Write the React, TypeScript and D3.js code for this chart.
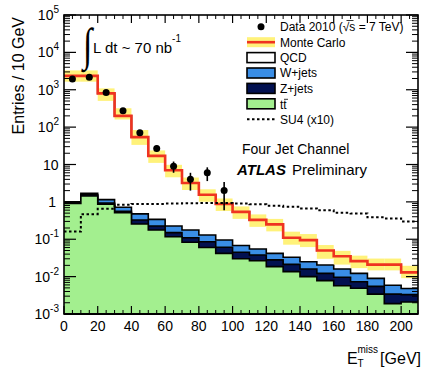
import React from 'react';
import * as d3 from 'd3';

const binStart = [0, 10, 20, 30, 40, 50, 60, 70, 80, 90, 100, 110, 120, 130, 140, 150, 160, 170, 180, 190, 200];
const binWidth = 10;
const mcTotal = [2350, 2350, 800, 200, 54, 17, 7, 3.2, 1.55, 0.88, 0.54, 0.33, 0.25, 0.11, 0.095, 0.05, 0.035, 0.026, 0.021, 0.021, 0.013];
const mcErrUp = [0.4, 0.4, 0.36, 0.6, 0.55, 0.4, 0.4, 0.4, 0.4, 0.4, 0.4, 0.4, 0.4, 0.45, 0.45, 0.4, 0.4, 0.4, 0.45, 0.45, 0.5];
const mcErrDn = [0.3, 0.3, 0.37, 0.2, 0.38, 0.35, 0.35, 0.35, 0.35, 0.35, 0.35, 0.35, 0.35, 0.35, 0.35, 0.4, 0.4, 0.35, 0.3, 0.3, 0.3];
const ttbar = [0.91, 1.44, 0.87, 0.51, 0.256, 0.177, 0.117, 0.083, 0.06, 0.042, 0.03, 0.0267, 0.0185, 0.0136, 0.01, 0.0078, 0.0057, 0.0049, 0.0034, 0.0019, 0.0021];
const zjets = [0.04, 0.11, 0.06, 0.05, 0.071, 0.049, 0.033, 0.027, 0.026, 0.019, 0.015, 0.0113, 0.0095, 0.0077, 0.006, 0.0044, 0.0039, 0.0024, 0.0021, 0.0015, 0.0012];
const wjets = [0.05, 0.14, 0.22, 0.16, 0.149, 0.115, 0.076, 0.067, 0.044, 0.0345, 0.023, 0.017, 0.014, 0.0117, 0.0091, 0.0083, 0.0064, 0.0049, 0.0035, 0.0025, 0.0015];
const su4 = [0.16, 0.47, 0.65, 0.84, 0.88, 0.88, 0.9, 0.92, 0.93, 0.93, 0.91, 0.86, 0.79, 0.74, 0.67, 0.6, 0.51, 0.49, 0.385, 0.36, 0.3];
const dataCounts = [1950, 2150, 850, 275, 71, 27, 9, 4, 6, 2];
const dataErr = [44, 46, 29, 17, 8.4, 5.2, 3, 2, 2.4, 1.4];
const xTickLabels = [0, 20, 40, 60, 80, 100, 120, 140, 160, 180, 200];
const yDecades = [-3, -2, -1, 0, 1, 2, 3, 4, 5];

const FONT = 'Liberation Sans, Arial, Helvetica, sans-serif';
const C_GREEN = '#a3ef8f';
const C_BLUE = '#3a8ee6';
const C_NAVY = '#021150';
const C_RED = '#ef3320';
const C_YELLOW = '#fff27a';

export default function App() {
  const W = 424, H = 368;
  const L = 64, R = 418, T = 15, B = 314;
  const x = d3.scaleLinear().domain([0, 210]).range([L, R]);
  const y = d3.scaleLog().domain([1e-3, 1e5]).range([B, T]);

  const stepPts = (vals: number[]) => {
    const pts: [number, number][] = [];
    vals.forEach((v, i) => {
      pts.push([x(binStart[i]), y(v)]);
      pts.push([x(binStart[i] + binWidth), y(v)]);
    });
    return pts;
  };
  const area = d3.area<[number, number]>().x(d => d[0]).y0(B + 5).y1(d => d[1]);
  const line = d3.line<[number, number]>().x(d => d[0]).y(d => d[1]);

  const cumZ = ttbar.map((v, i) => v + zjets[i]);
  const cumW = cumZ.map((v, i) => v + wjets[i]);
  const layers = [
    { vals: mcTotal, fill: '#ffffff' },
    { vals: cumW, fill: C_BLUE },
    { vals: cumZ, fill: C_NAVY },
    { vals: ttbar, fill: C_GREEN },
  ];

  const yMinor: number[] = [];
  for (let d = -3; d < 5; d++) for (let m = 2; m <= 9; m++) yMinor.push(m * Math.pow(10, d));
  const xMinor: number[] = [];
  for (let v = 0; v <= 210; v += 5) if (v % 20 !== 0) xMinor.push(v);

  const legendY = [26.8, 42.2, 57.6, 73, 88.4, 103.8, 119.2];
  const lx = 247, lw = 28, tx = 280;

  return (
    <svg width={W} height={H} style={{ position: 'absolute', left: 0, top: 0, background: '#fff' }} fontFamily={FONT}>
      <defs>
        <clipPath id="plot">
          <rect x={L} y={T} width={R - L} height={B - T} />
        </clipPath>
      </defs>
      <rect x={0} y={0} width={W} height={H} fill="#fff" />
      <g clipPath="url(#plot)">
        {layers.map((ly, k) => (
          <g key={k}>
            <path d={area(stepPts(ly.vals)) || ''} fill={ly.fill} stroke="none" />
            <path d={line(stepPts(ly.vals)) || ''} fill="none" stroke="#000" strokeWidth={1.6} />
          </g>
        ))}
        {mcTotal.map((v, i) => (
          <rect key={'b' + i} x={x(binStart[i])} width={x(binStart[i] + binWidth) - x(binStart[i])}
            y={y(v * (1 + mcErrUp[i]))} height={y(v * (1 - mcErrDn[i])) - y(v * (1 + mcErrUp[i]))}
            fill={C_YELLOW} />
        ))}
        <path d={line(stepPts(mcTotal)) || ''} fill="none" stroke={C_RED} strokeWidth={2.6} />
        <path d={line(stepPts(su4)) || ''} fill="none" stroke="#000" strokeWidth={2} strokeDasharray="2.5,2.5" />
        {dataCounts.map((v, i) => {
          const cx = x(binStart[i] + binWidth / 2);
          return (
            <g key={'d' + i}>
              <line x1={cx} x2={cx} y1={y(v + dataErr[i])} y2={y(Math.max(v - dataErr[i], 1e-3))} stroke="#000" strokeWidth={1.6} />
              <circle cx={cx} cy={y(v)} r={3.5} fill="#000" />
            </g>
          );
        })}
      </g>

      <rect x={L} y={T} width={R - L} height={B - T} fill="none" stroke="#000" strokeWidth={1.6} />
      <line x1={L} x2={R} y1={B} y2={B} stroke="#000" strokeWidth={2.2} />
      {yDecades.map(d => (
        <g key={'yt' + d}>
          <line x1={L} x2={L + 12} y1={y(Math.pow(10, d))} y2={y(Math.pow(10, d))} stroke="#000" strokeWidth={1.2} />
          <line x1={R} x2={R - 12} y1={y(Math.pow(10, d))} y2={y(Math.pow(10, d))} stroke="#000" strokeWidth={1.2} />
        </g>
      ))}
      {yMinor.map((v, i) => (
        <g key={'ym' + i}>
          <line x1={L} x2={L + 6} y1={y(v)} y2={y(v)} stroke="#000" strokeWidth={1} />
          <line x1={R} x2={R - 6} y1={y(v)} y2={y(v)} stroke="#000" strokeWidth={1} />
        </g>
      ))}
      {xTickLabels.map(v => (
        <g key={'xt' + v}>
          <line x1={x(v)} x2={x(v)} y1={B} y2={B - 8} stroke="#000" strokeWidth={1.2} />
          <line x1={x(v)} x2={x(v)} y1={T} y2={T + 8} stroke="#000" strokeWidth={1.2} />
          <text x={x(v)} y={331} textAnchor="middle" fontSize={14}>{v}</text>
        </g>
      ))}
      {xMinor.map(v => (
        <g key={'xm' + v}>
          <line x1={x(v)} x2={x(v)} y1={B} y2={B - 4} stroke="#000" strokeWidth={1} />
          <line x1={x(v)} x2={x(v)} y1={T} y2={T + 4} stroke="#000" strokeWidth={1} />
        </g>
      ))}
      {yDecades.map(d => {
        const ty = y(Math.pow(10, d)) + 5;
        if (d === 0) return <text key={'yl' + d} x={56} y={ty} textAnchor="end" fontSize={14}>1</text>;
        if (d === 1) return <text key={'yl' + d} x={58.5} y={ty} textAnchor="end" fontSize={14}>10</text>;
        return (
          <text key={'yl' + d} x={59} y={ty} textAnchor="end" fontSize={14}>
            10<tspan fontSize={10} dy={-7}>{String(d)}</tspan>
          </text>
        );
      })}
      <text transform="translate(23.5,17) rotate(-90)" textAnchor="end" fontSize={16}>Entries / 10 GeV</text>
      <text x={347} y={364} fontSize={16}>E</text>
      <text x={357.5} y={353} fontSize={10}>miss</text>
      <text x={357.5} y={367} fontSize={10}>T</text>
      <text x={421} y={364} textAnchor="end" fontSize={16}>[GeV]</text>

      <text x={0} y={0} fontSize={40} fontFamily="Liberation Serif, DejaVu Serif, serif" transform="translate(83,60) scale(0.85,1.15)">∫</text>
      <text x={93} y={53} fontSize={15}>L dt ~ 70 nb<tspan fontSize={10} dy={-11}>-1</tspan></text>

      <circle cx={lx + lw / 2} cy={legendY[0]} r={3.5} fill="#000" />
      <text x={tx} y={legendY[0] + 4.3} fontSize={12}>Data 2010 (√s = 7 TeV)</text>
      <line x1={346.5} x2={353.5} y1={20.5} y2={20.5} stroke="#000" strokeWidth={0.8} />
      <rect x={lx} y={legendY[1] - 5} width={lw} height={10} fill={C_YELLOW} />
      <line x1={lx} x2={lx + lw} y1={legendY[1]} y2={legendY[1]} stroke={C_RED} strokeWidth={2.6} />
      <text x={tx} y={legendY[1] + 4.3} fontSize={12}>Monte Carlo</text>
      {[{ f: '#ffffff', t: 'QCD' }, { f: C_BLUE, t: 'W+jets' }, { f: C_NAVY, t: 'Z+jets' }].map((e, k) => (
        <g key={'lg' + k}>
          <rect x={lx} y={legendY[2 + k] - 5} width={lw} height={10} fill={e.f} stroke="#000" strokeWidth={1.6} />
          <text x={tx} y={legendY[2 + k] + 4.3} fontSize={12}>{e.t}</text>
        </g>
      ))}
      <rect x={lx} y={legendY[5] - 5} width={lw} height={10} fill={C_GREEN} stroke="#000" strokeWidth={1.6} />
      <text x={tx} y={legendY[5] + 5.5} fontSize={12}>tt</text>
      <line x1={284} x2={288} y1={legendY[5] - 4.5} y2={legendY[5] - 4.5} stroke="#000" strokeWidth={0.8} />
      <line x1={lx} x2={lx + lw} y1={legendY[6]} y2={legendY[6]} stroke="#000" strokeWidth={2} strokeDasharray="2.5,2.5" />
      <text x={tx} y={legendY[6] + 4.3} fontSize={12}>SU4 (x10)</text>

      <text x={242} y={154} fontSize={14}>Four Jet Channel</text>
      <text x={237} y={175} fontSize={15} fontWeight="bold" fontStyle="italic">ATLAS</text>
      <text x={292} y={175} fontSize={15}>Preliminary</text>
    </svg>
  );
}
